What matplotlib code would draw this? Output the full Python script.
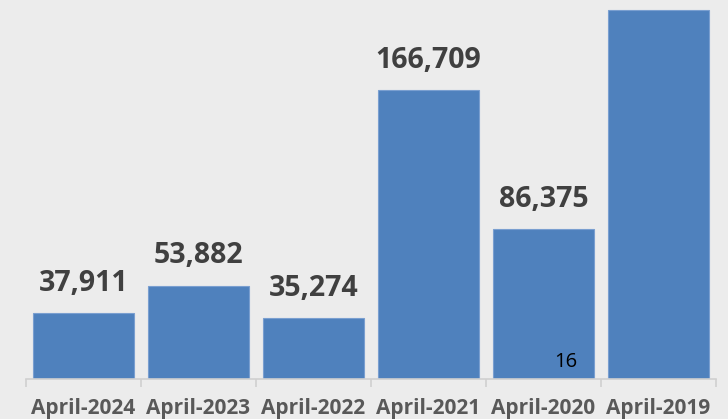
import matplotlib
matplotlib.use("Agg")
import matplotlib.pyplot as plt

categories = ["April-2024", "April-2023", "April-2022", "April-2021", "April-2020", "April-2019"]
values = [37911, 53882, 35274, 166709, 86375, 213000]
value_labels = ["37,911", "53,882", "35,274", "166,709", "86,375", ""]

W, H = 728, 419
fig = plt.figure(figsize=(W / 100, H / 100), dpi=100)
bg = "#ececec"
fig.patch.set_facecolor(bg)
ax = fig.add_axes([26 / W, 40 / H, 690 / W, 379 / H])
ax.set_facecolor(bg)

x = list(range(len(categories)))
ax.bar(x, values, width=0.87, color="#4f81bd", edgecolor="#7a9fd0", linewidth=0.8)

ax.set_xlim(-0.5, len(categories) - 0.5)
ax.set_ylim(0, 218700)

for xi, v, lab in zip(x, values, value_labels):
    if lab:
        ax.annotate(lab, (xi, v), xytext=(0, 11), textcoords="offset points",
                    ha="center", va="bottom", fontsize=20.5, fontweight="bold",
                    color="#404040", family="Open Sans")

ax.text(4.19, 10000, "16", ha="center", va="center", fontsize=14.5, color="black", family="Open Sans")

for s in ["top", "right", "left"]:
    ax.spines[s].set_visible(False)
ax.spines["bottom"].set_color("#d0d0d0")
ax.spines["bottom"].set_linewidth(1.2)
ax.set_yticks([])

ax.set_xticks([i - 0.5 for i in range(len(categories) + 1)], minor=False)
ax.set_xticklabels([])
ax.tick_params(axis="x", which="major", length=6, color="#d0d0d0", width=1.2)
ax.set_xticks(x, minor=True)
ax.set_xticklabels(categories, minor=True, fontsize=15, fontweight="bold",
                   color="#595959", family="Open Sans")
ax.tick_params(axis="x", which="minor", length=0, pad=14)

fig.savefig("out.png", dpi=100, facecolor=bg)
